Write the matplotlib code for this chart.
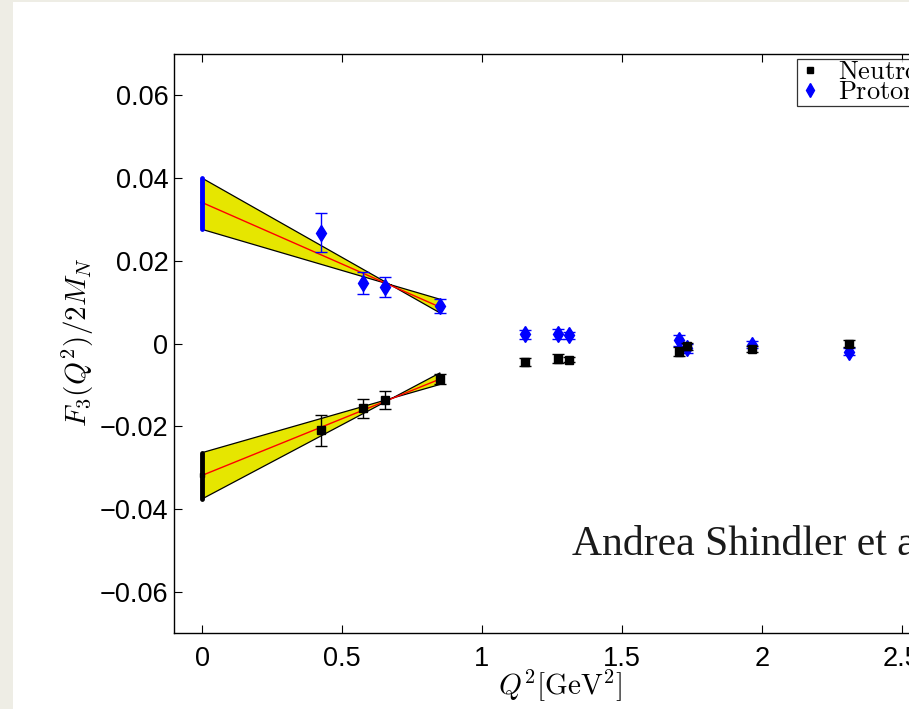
import matplotlib
matplotlib.use("Agg")
import matplotlib.pyplot as plt
from matplotlib.lines import Line2D
from matplotlib.patches import Rectangle

plt.rcParams['mathtext.fontset'] = 'cm'
plt.rcParams['font.family'] = ['Liberation Sans', 'DejaVu Sans']

# Lattice data points, Q^2 > 0
neutron_q2 = [0.424, 0.574, 0.653, 0.851, 1.152, 1.271, 1.309, 1.702, 1.731, 1.964, 2.309]
neutron_f3 = [-0.0210, -0.0156, -0.0137, -0.0086, -0.0045, -0.0037, -0.0039, -0.0020, -0.0007, -0.0013, 0.0000]
neutron_err = [0.0038, 0.0023, 0.0021, 0.0013, 0.0010, 0.0011, 0.0006, 0.0011, 0.0008, 0.0007, 0.0008]

proton_q2 = [0.424, 0.574, 0.653, 0.851, 1.152, 1.271, 1.309, 1.702, 1.731, 1.964, 2.309]
proton_f3 = [0.0268, 0.0147, 0.0137, 0.0090, 0.0022, 0.0024, 0.0020, 0.0008, -0.0012, -0.0003, -0.0020]
proton_err = [0.0047, 0.0027, 0.0024, 0.0017, 0.0010, 0.0012, 0.0008, 0.0013, 0.0010, 0.0008, 0.0009]

# Linear fit over the low-Q^2 points: central line and the two error lines
fit_q2 = [0.0, 0.85]
proton_fit = [0.0341, 0.0088]
proton_band_a = [0.0400, 0.0074]
proton_band_b = [0.0276, 0.0107]
neutron_fit = [-0.0319, -0.0086]
neutron_band_a = [-0.0264, -0.0099]
neutron_band_b = [-0.0376, -0.0071]

# Extrapolated values at Q^2 = 0 (value, lower, upper)
proton_q0 = [0.0341, 0.0276, 0.0400]
neutron_q0 = [-0.0319, -0.0376, -0.0264]

x_ticks = [0, 0.5, 1, 1.5, 2, 2.5]
x_tick_labels = ['0', '0.5', '1', '1.5', '2', '2.5']
y_ticks = [-0.06, -0.04, -0.02, 0, 0.02, 0.04, 0.06]
y_tick_labels = ['\u22120.06', '\u22120.04', '\u22120.02', '0', '0.02', '0.04', '0.06']

W, H = 909, 709
fig = plt.figure(figsize=(W / 100, H / 100), dpi=100)
fig.patch.set_facecolor('white')

# slide border
fig.patches.append(Rectangle((0, 0), 13 / W, 1, transform=fig.transFigure,
                             facecolor='#eeede5', edgecolor='none', zorder=0))
fig.patches.append(Rectangle((0, 1 - 2 / H), 1, 2 / H, transform=fig.transFigure,
                             facecolor='#eeede5', edgecolor='none', zorder=0))

ax = fig.add_axes([174 / W, (H - 633) / H, 770 / W, 579 / H])
ax.set_xlim(-0.1, 2.65)
ax.set_ylim(-0.07, 0.07)

yellow = '#e6e600'
for band_a, band_b, fit in ((proton_band_a, proton_band_b, proton_fit),
                            (neutron_band_a, neutron_band_b, neutron_fit)):
    poly_x = fit_q2 + fit_q2[::-1]
    poly_y = band_a + band_b[::-1]
    ax.fill(poly_x, poly_y, facecolor=yellow, edgecolor='black', linewidth=0.9, zorder=1)
    ax.plot(fit_q2, fit, color='red', linewidth=1.0, zorder=2)

# Q^2 = 0 extrapolations
for vals, col, mk in ((proton_q0, 'blue', 'd'), (neutron_q0, 'black', 's')):
    eb = ax.errorbar([0], [vals[0]], yerr=[[vals[0] - vals[1]], [vals[2] - vals[0]]],
                     fmt=mk, color=col, markersize=3, elinewidth=3.5, capsize=0, zorder=4)
    for lc in eb[2]:
        lc.set_capstyle('round')

ax.errorbar(proton_q2, proton_f3, yerr=proton_err, fmt='d', color='blue',
            markersize=8, elinewidth=1.0, capsize=4.5, capthick=1.0, zorder=3)
ax.errorbar(neutron_q2, neutron_f3, yerr=neutron_err, fmt='s', color='black',
            markersize=6, elinewidth=1.0, capsize=4.5, capthick=1.0, zorder=4)

ax.set_xticks(x_ticks)
ax.set_xticklabels(x_tick_labels)
ax.set_yticks(y_ticks)
ax.set_yticklabels(y_tick_labels)
ax.tick_params(direction='in', length=5.5, width=0.8, top=True, right=True,
               labelsize=19.5)
ax.tick_params(axis='x', pad=9)
ax.tick_params(axis='y', pad=4)
for sp in ax.spines.values():
    sp.set_linewidth(1.0)

ax.set_xlabel(r'$Q^2[\mathrm{GeV}^2]$', fontsize=21, labelpad=0)
ax.xaxis.set_label_coords((560 - 174) / 770, -(685 - 633) / 579)
ax.xaxis.label.set_va('center')
ax.set_ylabel(r'$F_3(Q^2)/2M_N$', fontsize=21)
ax.yaxis.set_label_coords(-(174 - 78) / 770, (633 - 342) / 579)
ax.yaxis.label.set_va('center')

handles = [Line2D([], [], linestyle='none', marker='s', color='black', markersize=5),
           Line2D([], [], linestyle='none', marker='d', color='blue', markersize=7)]
leg = ax.legend(handles, [r'$\mathrm{Neutron}$', r'$\mathrm{Proton}$'],
                loc='upper left', bbox_to_anchor=((797 - 174) / 770, (633 - 59) / 579),
                fontsize=19, frameon=True, fancybox=False, borderaxespad=0,
                borderpad=0.05, labelspacing=-0.15, handlelength=0.9,
                handletextpad=0.6)
leg.get_frame().set_edgecolor('black')
leg.get_frame().set_linewidth(0.9)

fig.text(572 / W, (H - 555) / H, 'Andrea Shindler et al.', fontsize=30,
         family=['Liberation Serif', 'DejaVu Serif'], color='#1a1a1a',
         va='baseline', ha='left')

fig.savefig('out.png', dpi=100)
